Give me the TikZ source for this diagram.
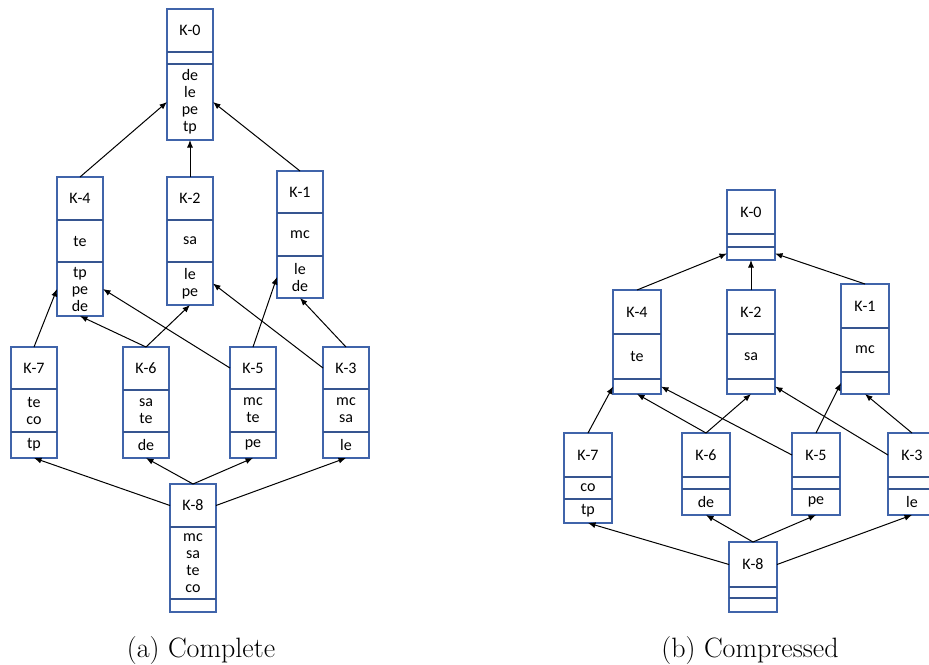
\documentclass[tikz,border=0pt]{standalone}
\usepackage{fontspec}
\newfontfamily\boxfont{Carlito}
\usetikzlibrary{arrows.meta,calc}
\definecolor{boxblue}{RGB}{64,100,170}
\tikzset{
  box/.style={draw=boxblue, line width=1.4pt, minimum width=46pt, inner sep=0pt, outer sep=0pt, anchor=north west},
  div/.style={draw=boxblue!85!black, line width=1.2pt},
  lbl/.style={font=\boxfont\fontsize{16}{17}\selectfont, align=center, inner sep=0pt},
  arr/.style={-{Latex[length=7.5pt,width=6pt]}, line width=1pt},
  captext/.style={font=\fontsize{28}{32}\selectfont, anchor=base}
}
\newcommand\kbox[9]{%
  \node[box, minimum height={(#4+#5+#6)*1pt}] (#1) at (#2,#3) {};
  \draw[div] ([yshift={-(#4)*1pt}]#1.north west) -- ([yshift={-(#4)*1pt}]#1.north east);
  \draw[div] ([yshift={-(#4+#5)*1pt}]#1.north west) -- ([yshift={-(#4+#5)*1pt}]#1.north east);
  \node[lbl] (#1-h) at ([yshift={-(#4)*0.5pt}]#1.north) {#7};
  \node[lbl] (#1-m) at ([yshift={-(#4+0.5*#5)*1pt}]#1.north) {#8};
  \node[lbl] (#1-c) at ([yshift={-(#4+#5+0.5*#6)*1pt}]#1.north) {#9};
}
\begin{document}
\begin{tikzpicture}[x=1pt,y=-1pt]
\useasboundingbox (0,0) rectangle (929,664);
% ---------- (a) Complete ----------
\kbox{k0a}{167}{9}{43}{12}{76}{K-0}{}{de\\le\\pe\\tp}
\kbox{k4a}{57}{177}{43}{42}{54}{K-4}{te}{tp\\pe\\de}
\kbox{k2a}{167}{177}{43}{42}{43}{K-2}{sa}{le\\pe}
\kbox{k1a}{277}{171}{42}{43}{42}{K-1}{mc}{le\\de}
\kbox{k7a}{11}{347}{42}{43}{26}{K-7}{te\\co}{tp}
\kbox{k6a}{123}{347}{43}{42}{26}{K-6}{sa\\te}{de}
\kbox{k5a}{230}{347}{42}{43}{26}{K-5}{mc\\te}{pe}
\kbox{k3a}{323}{347}{42}{43}{26}{K-3}{mc\\sa}{le}
\kbox{k8a}{170}{484}{43}{72}{13}{K-8}{mc\\sa\\te\\co}{}
\draw[arr] (k4a.north) -- (k0a-c -| k0a.west);
\draw[arr] (k2a.north) -- (k0a.south);
\draw[arr] (k1a.north) -- (k0a-c -| k0a.east);
\draw[arr] (k7a.north) -- (k4a-c -| k4a.west);
\draw[arr] (k6a.north) -- (k4a.south);
\draw[arr] (k6a.north) -- (k2a.south);
\draw[arr] (k5a-h -| k5a.west) -- (k4a-c -| k4a.east);
\draw[arr] (k5a.north) -- (k1a-c -| k1a.west);
\draw[arr] (k3a-h -| k3a.west) -- (k2a-c -| k2a.east);
\draw[arr] (k3a.north) -- (k1a.south);
\draw[arr] (k8a-h -| k8a.west) -- (k7a.south);
\draw[arr] (k8a.north) -- (k6a.south);
\draw[arr] (k8a.north) -- (k5a.south);
\draw[arr] (k8a-h -| k8a.east) -- (k3a.south);
\node[captext] (capa) at (201,657) {(a) Complete};
% ---------- (b) Compressed ----------
\begin{scope}[box/.append style={minimum width=48pt}]
\kbox{k0b}{727}{190}{44}{13}{13}{K-0}{}{}
\kbox{k4b}{613}{290}{44}{45}{15}{K-4}{te}{}
\kbox{k2b}{727}{290}{44}{45}{15}{K-2}{sa}{}
\kbox{k1b}{841}{284}{44}{44}{22}{K-1}{mc}{}
\kbox{k7b}{564}{433}{44}{22}{24}{K-7}{co}{tp}
\kbox{k6b}{682}{433}{44}{12}{26}{K-6}{}{de}
\kbox{k5b}{792}{433}{44}{12}{26}{K-5}{}{pe}
\kbox{k3b}{888}{433}{44}{12}{26}{K-3}{}{le}
\kbox{k8b}{729}{542}{45}{11}{14}{K-8}{}{}
\end{scope}
\draw[arr] (k4b.north) -- (k0b-c -| k0b.west);
\draw[arr] (k2b.north) -- (k0b.south);
\draw[arr] (k1b.north) -- (k0b-c -| k0b.east);
\draw[arr] (k7b.north) -- (k4b-c -| k4b.west);
\draw[arr] (k6b.north) -- (k4b.south);
\draw[arr] (k6b.north) -- (k2b.south);
\draw[arr] (k5b-h -| k5b.west) -- (k4b-c -| k4b.east);
\draw[arr] (k5b.north) -- (k1b-c -| k1b.west);
\draw[arr] (k3b-h -| k3b.west) -- (k2b-c -| k2b.east);
\draw[arr] (k3b.north) -- (k1b.south);
\draw[arr] (k8b-h -| k8b.west) -- (k7b.south);
\draw[arr] (k8b.north) -- (k6b.south);
\draw[arr] (k8b.north) -- (k5b.south);
\draw[arr] (k8b-h -| k8b.east) -- (k3b.south);
\node[captext] (capb) at (750,657) {(b) Compressed};
\end{tikzpicture}
\end{document}
